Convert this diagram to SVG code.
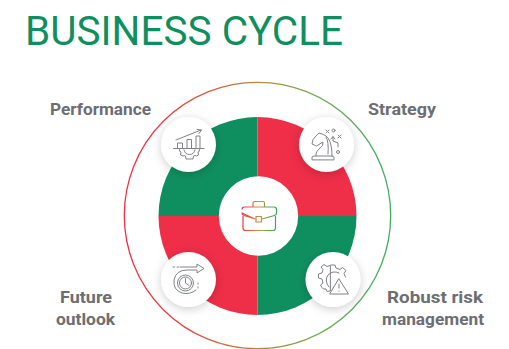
<svg xmlns="http://www.w3.org/2000/svg" width="509" height="349" viewBox="0 0 509 349">
<defs>
<linearGradient id="ring" gradientUnits="userSpaceOnUse" x1="124" y1="0" x2="391" y2="0"><stop offset="0" stop-color="#ef2e48"/><stop offset="0.25" stop-color="#e8483f"/><stop offset="0.5" stop-color="#b5893f"/><stop offset="0.75" stop-color="#6fae5a"/><stop offset="1" stop-color="#3fae62"/></linearGradient>
<linearGradient id="case" gradientUnits="userSpaceOnUse" x1="241" y1="0" x2="277" y2="0"><stop offset="0" stop-color="#ef2e48"/><stop offset="0.5" stop-color="#c9933f"/><stop offset="1" stop-color="#2fa860"/></linearGradient>
<filter id="sh" x="-40%" y="-40%" width="180%" height="180%"><feDropShadow dx="0" dy="2" stdDeviation="5" flood-color="#000" flood-opacity="0.2"/></filter>
</defs>
<style>
.lbl{font-family:"Roboto","Liberation Sans",sans-serif;font-weight:700;font-size:16.5px;fill:#6d6e71}
.disc{fill:#fff;filter:url(#sh)}
.ic{fill:none;stroke:#808285;stroke-width:1;stroke-linejoin:round;stroke-linecap:round}
.cs{fill:none;stroke:url(#case);stroke-width:1.2;stroke-linejoin:round}
</style>
<rect width="509" height="349" fill="#fff"/>
<text id="title" x="25" y="45" font-family="Roboto,'Liberation Sans',sans-serif" font-size="40" fill="#0f8f5f" textLength="318" lengthAdjust="spacingAndGlyphs">BUSINESS CYCLE</text>
<g id="connectors">
<circle cx="257.500" cy="215.500" r="133.200" fill="none" stroke="url(#ring)" stroke-width="1.300"/>
</g>
<g id="donut">
<path d="M257.500 117A99 99 0 0 0 158.500 216H257.500Z" fill="#0f8f5f"/>
<path d="M257.500 117A99 99 0 0 1 356.500 216H257.500Z" fill="#ef2e48"/>
<path d="M257.500 315A99 99 0 0 1 158.500 216H257.500Z" fill="#ef2e48"/>
<path d="M257.500 315A99 99 0 0 0 356.500 216H257.500Z" fill="#0f8f5f"/>
</g>
<g id="center">
<circle cx="258.500" cy="216" r="39.700" fill="#fff"/>
<path class="cs" d="M242 209.500Q242 207 244.500 207H274Q276.500 207 276.500 209.500V213Q276.500 215 274.500 215.500L262 219M255 219L244 215.500Q242 215 242 213Z"/>
<path class="cs" d="M243 216V228Q243 230.500 245.500 230.500H273Q275.500 230.500 275.500 228V216"/>
<path class="cs" d="M253 207V203Q253 201.500 254.500 201.500H263Q264.500 201.500 264.500 203V207"/>
<rect class="cs" x="256" y="216.500" width="5.500" height="5.500"/>
</g>
<g id="performance">
<circle class="disc" cx="188.500" cy="144.500" r="27.500"/>
<path class="ic" d="M173.500 148.500H204M177.500 148.500V143H182.500V148.500M187 148.500V139.500H191.500V148.500M196 148.500V136H200V148.500M176 140L201 130M197 129.500L201.500 130L199 133.500"/>
<path class="ic" d="M179.500 149.500Q179 152 181 152L180.500 155L183 156Q184 155 185.500 156L186 159H193L193.500 156Q195 155 196.500 156L198.500 155L198 152Q200 152 199.500 149.500M184 150Q185 154.500 189.500 154.500Q194 154.500 195 150"/>
<text class="lbl" x="50" y="114.500" textLength="101" lengthAdjust="spacingAndGlyphs">Performance</text>
</g>
<g id="strategy">
<circle class="disc" cx="326.500" cy="144.500" r="27.500"/>
<path class="ic" d="M312 159.500V157L314 156H332L334 157V159.500ZM316 156V154Q316 152 319 149Q324 146 323 142L316.500 146L312 144Q312 139 316 136L319 133L322 134Q330 136 331.500 148Q332 152 332 156"/>
<path class="ic" d="M326 137Q329 141 328 154"/>
<path class="ic" d="M326 130L329 133M329 130L326 133M338 135L341 138M341 135L338 138"/>
<circle class="ic" cx="333.500" cy="130.500" r="1.500"/><circle class="ic" cx="338" cy="152" r="1.500"/>
<path class="ic" d="M338 147V143L333 141V137M331 139L333 136.500L335 139"/>
<text class="lbl" x="368" y="114.500" textLength="68" lengthAdjust="spacingAndGlyphs">Strategy</text>
</g>
<g id="future">
<circle class="disc" cx="188.500" cy="279.500" r="27.500"/>
<path class="ic" d="M173 267H174.500M177 267H178.500M180 267H197V264L204 268.500L197 273V270H187Q176 270 174 280Q173 290 182 293Q190 295 196 290"/>
<circle class="ic" cx="185.500" cy="283" r="8"/>
<circle class="ic" cx="185.500" cy="283" r="6"/>
<path class="ic" d="M185.500 278.500V283L189 285.500"/>
<path class="ic" d="M198 288V287M198 284V283" stroke-dasharray="1 1.500"/>
<text class="lbl" x="60" y="302.500" textLength="52" lengthAdjust="spacingAndGlyphs">Future</text>
<text class="lbl" x="56" y="324.500" textLength="59" lengthAdjust="spacingAndGlyphs">outlook</text>
</g>
<g id="risk">
<circle class="disc" cx="333" cy="279.500" r="27.500"/>
<path class="ic" d="M331 265H335L336 268L340 269.500L342.500 267.500L346 270.500L344 273.500L345.500 277M330 291L327 291.500L326 289L323.500 289L322 287.500L320.500 285L323 283L322 279L318.500 278V274L322 273L323 269.500L321 267L324 264.500L327 266.500L330 265.500Z"/>
<path class="ic" d="M329 287Q324 281 328 275Q333 270 339 273"/>
<path class="ic" d="M339 279L348.500 294H330Z"/>
<path class="ic" d="M339 284V288M339 291V291.200"/>
<text class="lbl" x="387" y="302.500" textLength="96" lengthAdjust="spacingAndGlyphs">Robust risk</text>
<text class="lbl" x="382" y="324.500" textLength="102" lengthAdjust="spacingAndGlyphs">management</text>
</g>
</svg>
